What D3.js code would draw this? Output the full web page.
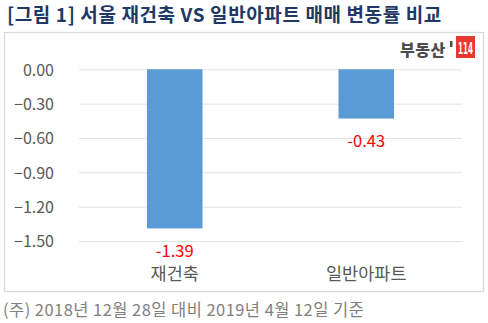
<!DOCTYPE html>
<html>
<head>
<meta charset="utf-8">
<script src="https://cdn.jsdelivr.net/npm/d3@7"></script>
<style>
  html, body { margin: 0; padding: 0; background: #fff; }
  svg { display: block; font-family: "Noto Sans CJK KR", "Noto Sans", sans-serif; }
</style>
</head>
<body>
<svg id="chart" width="488" height="323"></svg>
<script>
// Chart data
const categories = ["재건축", "일반아파트"];
const values = [-1.39, -0.43];
const yTicks = [0, -0.3, -0.6, -0.9, -1.2, -1.5];
const titleText = "[그림 1] 서울 재건축 VS 일반아파트 매매 변동률 비교";
const noteText = "(주) 2018년 12월 28일 대비 2019년 4월 12일 기준";

const svg = d3.select("#chart");

// Plot area
const plot = { left: 79, right: 462, top: 69.3, bottom: 241 };

const x = d3.scaleBand()
  .domain(categories)
  .range([plot.left, plot.right])
  .paddingInner(0.71)
  .paddingOuter(0.355);

const y = d3.scaleLinear()
  .domain([0, -1.5])
  .range([plot.top, plot.bottom]);

// Title
svg.append("text")
  .attr("x", 7).attr("y", 22)
  .attr("font-size", 19).attr("font-weight", "bold")
  .attr("fill", "#1f3864")
  .attr("letter-spacing", 0.6)
  .text(titleText);

// Frame
svg.append("rect")
  .attr("x", 4.5).attr("y", 32.5)
  .attr("width", 479).attr("height", 259)
  .attr("fill", "none").attr("stroke", "#d9d9d9").attr("stroke-width", 1.2);

// Brand mark
const logo = svg.append("g");
logo.append("text")
  .attr("x", 400).attr("y", 56)
  .attr("font-size", 16).attr("font-weight", 900)
  .attr("fill", "#4d4d4d")
  .attr("letter-spacing", 0.5)
  .text("부동산");
logo.append("rect")
  .attr("x", 450).attr("y", 41).attr("width", 2.5).attr("height", 6)
  .attr("fill", "#4d4d4d");
logo.append("rect")
  .attr("x", 456).attr("y", 36).attr("width", 19).attr("height", 22)
  .attr("fill", "#e8382f");
logo.append("text")
  .attr("x", 458).attr("y", 53.5)
  .attr("font-size", 15).attr("font-weight", "bold")
  .attr("font-family", "'DejaVu Sans Condensed', 'Liberation Sans Narrow', sans-serif")
  .attr("fill", "#fff")
  .attr("textLength", 15)
  .attr("lengthAdjust", "spacingAndGlyphs")
  .text("114");

// Y axis: gridlines and labels
const yAxis = d3.axisLeft(y)
  .tickValues(yTicks)
  .tickSize(-(plot.right - plot.left))
  .tickPadding(25)
  .tickFormat(d3.format(".2f"));

const yg = svg.append("g")
  .attr("transform", `translate(${plot.left},0)`)
  .call(yAxis);
yg.select(".domain").remove();
yg.selectAll(".tick line").attr("stroke", "#e3e3e3").attr("stroke-width", 1);
yg.selectAll(".tick text")
  .attr("font-size", 16)
  .attr("fill", "#595959")
  .attr("font-family", "'Noto Sans CJK KR', 'Noto Sans', sans-serif")
  .attr("dy", "0.36em");

// Bars
svg.selectAll("rect.bar")
  .data(values)
  .join("rect")
  .attr("class", "bar")
  .attr("x", (d, i) => x(categories[i]))
  .attr("width", x.bandwidth())
  .attr("y", y(0))
  .attr("height", d => y(d) - y(0))
  .attr("fill", "#5b9bd5");

// Value labels
svg.selectAll("text.val")
  .data(values)
  .join("text")
  .attr("class", "val")
  .attr("x", (d, i) => x(categories[i]) + x.bandwidth() / 2)
  .attr("y", d => y(d) + 28.5)
  .attr("text-anchor", "middle")
  .attr("font-size", 16.5)
  .attr("fill", "#ff0000")
  .text(d => d.toFixed(2));

// Category labels
svg.selectAll("text.cat")
  .data(categories)
  .join("text")
  .attr("class", "cat")
  .attr("x", d => x(d) + x.bandwidth() / 2)
  .attr("y", 279.5)
  .attr("text-anchor", "middle")
  .attr("font-size", 17.5)
  .attr("fill", "#595959")
  .text(d => d);

// Footnote
svg.append("text")
  .attr("x", 3).attr("y", 316)
  .attr("font-size", 16.5)
  .attr("fill", "#7f7f7f")
  .attr("letter-spacing", 0.45)
  .text(noteText);
</script>
</body>
</html>
